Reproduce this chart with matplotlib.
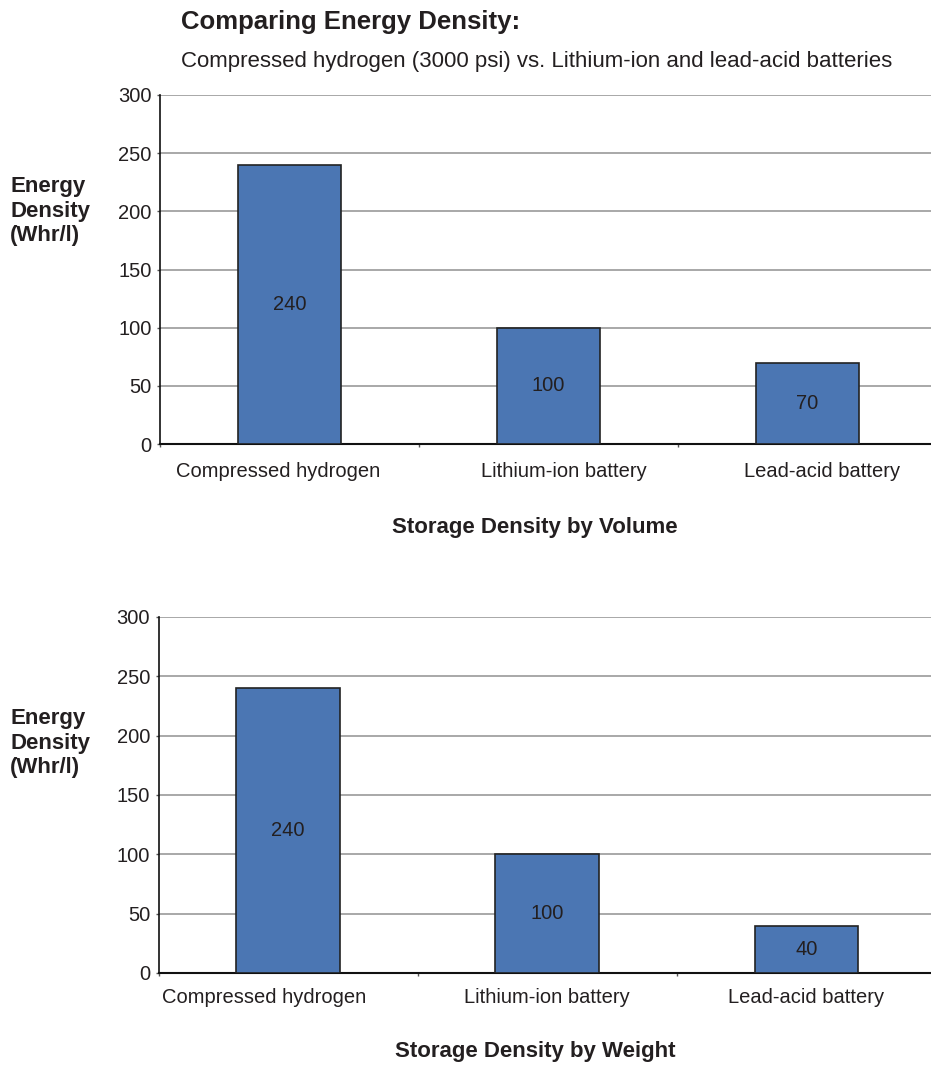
import matplotlib
matplotlib.use("Agg")
import matplotlib.pyplot as plt
import matplotlib.transforms as mtransforms

plt.rcParams['font.family'] = ['Liberation Sans', 'DejaVu Sans']

categories = ["Compressed hydrogen", "Lithium-ion battery", "Lead-acid battery"]
volume_values = [240, 100, 70]
weight_values = [240, 100, 40]
yticks = [0, 50, 100, 150, 200, 250, 300]

title = "Comparing Energy Density:"
subtitle = "Compressed hydrogen (3000 psi) vs. Lithium-ion and lead-acid batteries"
ylabel = "Energy\nDensity\n(Whr/l)"
xlabels = ["Storage Density by Volume", "Storage Density by Weight"]

W, H = 931, 1066
fig = plt.figure(figsize=(W / 100, H / 100), dpi=100)

bar_color = "#4b76b3"
edge_color = "#222222"
text_color = "#231f20"


def make_axes(left_px, top_px, right_px, bottom_px):
    return fig.add_axes([left_px / W, 1 - bottom_px / H,
                         (right_px - left_px) / W, (bottom_px - top_px) / H])


def draw(ax, values, xlabel, xlabel_y, ylabel_y, label_shifts, label_pad):
    x = list(range(len(categories)))
    ax.bar(x, values, width=0.4, color=bar_color, edgecolor=edge_color,
           linewidth=1.2, zorder=3)
    for xi, v in zip(x, values):
        ax.text(xi, v / 2, str(v), ha='center', va='center', fontsize=14.5,
                color=text_color, zorder=4)
    ax.set_xlim(-0.5, len(categories) - 0.5)
    ax.set_ylim(0, 300)
    ax.set_yticks(yticks)
    ax.set_yticklabels([str(t) for t in yticks], fontsize=14.5, color=text_color)
    ax.set_xticks(x)
    ax.set_xticklabels(categories, fontsize=14.5, color=text_color)
    ax.tick_params(axis='x', which='major', length=0, pad=label_pad)
    ax.set_xticks([-0.5, 0.5, 1.5, 2.5], minor=True)
    ax.tick_params(axis='x', which='minor', length=2, width=1, color='#555555')
    ax.tick_params(axis='y', length=2, width=1, color='#555555', pad=4)
    for lbl, dx in zip(ax.get_xticklabels(), label_shifts):
        lbl.set_transform(lbl.get_transform() +
                          mtransforms.ScaledTranslation(dx / 100, 0, fig.dpi_scale_trans))
    ax.yaxis.grid(True, color='#999999', linewidth=1.2, zorder=0)
    ax.set_axisbelow(True)
    for s in ['top', 'right']:
        ax.spines[s].set_visible(False)
    ax.spines['left'].set_color('#111111')
    ax.spines['bottom'].set_color('#111111')
    ax.spines['left'].set_linewidth(1.2)
    ax.spines['bottom'].set_linewidth(1.5)
    fig.text(535 / W, 1 - xlabel_y / H, xlabel, ha='center', va='center',
             fontsize=16, fontweight='bold', color=text_color)
    fig.text(10 / W, 1 - ylabel_y / H, ylabel, ha='left', va='center',
             fontsize=16, fontweight='bold', color=text_color, linespacing=1.22)


ax1 = make_axes(160, 95, 937, 444)
draw(ax1, volume_values, xlabels[0], 527, 211, [-11, 15, 15], 13)

ax2 = make_axes(158.5, 617, 936, 973)
draw(ax2, weight_values, xlabels[1], 1051, 743, [-24, 0, 0], 11)

fig.text(181 / W, 1 - 22 / H, title, ha='left', va='center', fontsize=18.5,
         fontweight='bold', color=text_color)
fig.text(181 / W, 1 - 62 / H, subtitle, ha='left', va='center', fontsize=16,
         color=text_color)

fig.savefig("out.png", dpi=100)
